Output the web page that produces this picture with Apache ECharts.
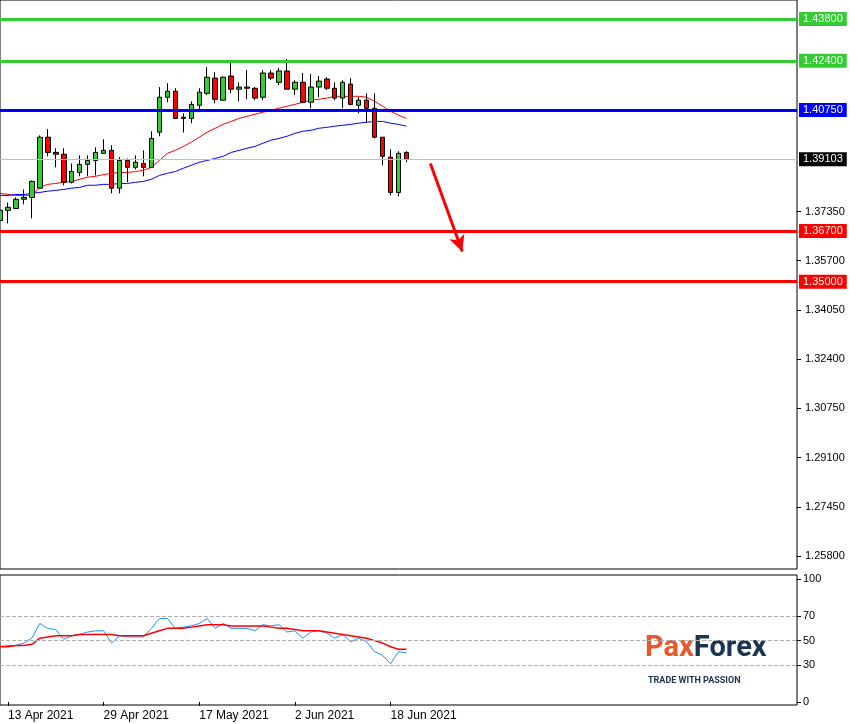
<!DOCTYPE html>
<html><head><meta charset="utf-8">
<script src="https://cdn.jsdelivr.net/npm/echarts@6/dist/echarts.min.js"></script>
<style>html,body{margin:0;padding:0;background:#fff}#c{width:858px;height:724px}</style>
</head><body><div id="c"></div>
<script>
// candles [open, close, low, high]
const candles = [
[1.3705,1.3739,1.3672,1.3776],[1.3739,1.3749,1.3695,1.3765],[1.3745,1.3776,1.3745,1.3782],[1.3776,1.3782,1.3759,1.3809],
[1.3782,1.3836,1.3712,1.3839],[1.3813,1.3984,1.3813,1.3990],[1.3984,1.3933,1.3920,1.4011],[1.3933,1.3927,1.3883,1.3947],
[1.3927,1.3833,1.3823,1.3947],[1.3833,1.3869,1.3829,1.3896],[1.3866,1.3893,1.3853,1.3923],[1.3893,1.3906,1.3853,1.3923],
[1.3906,1.3933,1.3856,1.3950],[1.3930,1.3940,1.3930,1.3977],[1.3940,1.3813,1.3796,1.3957],[1.3813,1.3906,1.3796,1.3917],
[1.3906,1.3883,1.3833,1.3913],[1.3883,1.3900,1.3876,1.3923],[1.3896,1.3883,1.3853,1.3940],[1.3883,1.3980,1.3883,1.4004],
[1.4001,1.4118,1.3987,1.4152],[1.4118,1.4138,1.4101,1.4165],[1.4138,1.4047,1.4047,1.4148],[1.4051,1.4047,1.4000,1.4064],
[1.4047,1.4094,1.4031,1.4104],[1.4091,1.4135,1.4074,1.4148],[1.4131,1.4185,1.4125,1.4219],[1.4182,1.4111,1.4098,1.4202],
[1.4108,1.4185,1.4108,1.4188],[1.4189,1.4145,1.4131,1.4236],[1.4145,1.4152,1.4104,1.4168],[1.4152,1.4148,1.4111,1.4209],
[1.4148,1.4115,1.4108,1.4152],[1.4118,1.4199,1.4108,1.4209],[1.4199,1.4182,1.4175,1.4209],[1.4168,1.4206,1.4158,1.4216],
[1.4206,1.4145,1.4145,1.4246],[1.4145,1.4168,1.4125,1.4175],[1.4168,1.4101,1.4098,1.4199],[1.4101,1.4152,1.4081,1.4196],
[1.4152,1.4172,1.4118,1.4189],[1.4179,1.4148,1.4142,1.4185],[1.4148,1.4115,1.4108,1.4168],[1.4115,1.4168,1.4081,1.4175],
[1.4162,1.4094,1.4091,1.4182],[1.4091,1.4108,1.4064,1.4118],[1.4108,1.4081,1.4034,1.4131],[1.4081,1.3984,1.3980,1.4131],
[1.3984,1.3920,1.3890,1.3984],[1.3917,1.3799,1.3789,1.3943],[1.3799,1.3930,1.3786,1.3937],[1.3933,1.3910,1.3900,1.3937]
];
const maFast = [1.3796,1.3792,1.3789,1.3789,1.3789,1.3816,1.3826,1.3829,1.3833,1.3836,1.3843,1.3850,1.3853,1.3859,1.3863,1.3866,1.3866,1.3869,1.3873,1.3883,1.3906,1.3930,1.3940,1.3953,1.3967,1.3984,1.4001,1.4014,1.4027,1.4037,1.4047,1.4054,1.4061,1.4068,1.4074,1.4081,1.4088,1.4094,1.4101,1.4108,1.4111,1.4115,1.4121,1.4121,1.4121,1.4121,1.4118,1.4104,1.4088,1.4071,1.4058,1.4047];
const maSlow = [1.3789,1.3789,1.3792,1.3792,1.3796,1.3799,1.3803,1.3806,1.3809,1.3813,1.3816,1.3823,1.3823,1.3826,1.3826,1.3829,1.3829,1.3833,1.3836,1.3843,1.3856,1.3863,1.3869,1.3880,1.3890,1.3900,1.3906,1.3913,1.3920,1.3933,1.3940,1.3947,1.3953,1.3964,1.3974,1.3980,1.3987,1.3997,1.4004,1.4007,1.4014,1.4017,1.4021,1.4024,1.4027,1.4031,1.4034,1.4037,1.4037,1.4031,1.4027,1.4021];
const rsi = [45,46,46,48,52,64,60,59,51,54,55,57,58,58,48,54,53,53,53,60,68,68,60,61,62,64,68,60,64,60,60,60,58,63,62,63,57,58,52,57,58,56,52,55,49,52,49,41,38,31,41,40];
const rsiSignal = [45,45,46,46,47,52,53,54,54,54,55,55,55,55,55,54,54,54,54,56,58,60,60,60,61,62,63,63,63,62,62,62,62,62,61,60,60,59,58,58,58,57,56,55,54,53,52,50,48,45,43,43];
const priceTicks = [1.258,1.2745,1.291,1.3075,1.324,1.3405,1.357,1.3735];
const rsiTicks = [0,30,50,70,100];
const levels = [
 {v:1.438, c:'#33cc33'}, {v:1.424, c:'#33cc33'},
 {v:1.4075, c:'#0000ff'}, {v:1.367, c:'#ff0000'}, {v:1.350, c:'#ff0000'}
];
const lastPrice = 1.39103;
const arrowFrom = [53.5, 1.3896], arrowTo = [57.9, 1.3601];
const dateLabelIdx = [1,13,25,37,49];
const nSlots = 101;

const mon = ['Jan','Feb','Mar','Apr','May','Jun','Jul','Aug','Sep','Oct','Nov','Dec'];
const cats = [];
let d = new Date(Date.UTC(2021,3,12));
while (cats.length < nSlots) {
  const wd = d.getUTCDay();
  if (wd !== 0 && wd !== 6) cats.push(d.getUTCDate()+' '+mon[d.getUTCMonth()]+' 2021');
  d = new Date(d.getTime()+86400000);
}

const chart = echarts.init(document.getElementById('c'));
const lbl = (txt,bg)=>({show:true,position:'end',distance:2,formatter:txt,backgroundColor:bg,color:'#fff',padding:[2,4,1,4],fontSize:11,fontFamily:'Liberation Sans'});
const mlLevels = levels.map(l => ({yAxis:l.v, lineStyle:{color:l.c,width:3,type:'solid'}, label:lbl(l.v.toFixed(5),l.c)}));
mlLevels.unshift({yAxis:lastPrice,lineStyle:{color:'#c0c0c0',width:1,type:'solid'},label:lbl(lastPrice.toFixed(5),'#000')});

chart.setOption({
  animation:false,
  textStyle:{fontFamily:'Liberation Sans'},
  grid:[
    {left:0,top:0,width:797,height:569,show:true,borderColor:'#000',borderWidth:1,backgroundColor:'#fff'},
    {left:0,top:575,width:797,height:130,show:true,borderColor:'#000',borderWidth:1}
  ],
  xAxis:[
    {type:'category',data:cats,boundaryGap:false,gridIndex:0,axisLine:{show:false},axisTick:{show:false},axisLabel:{show:false},splitLine:{show:false}},
    {type:'category',data:cats,boundaryGap:false,gridIndex:1,axisLine:{show:false},
     axisTick:{show:true,interval:(i)=>dateLabelIdx.includes(i),length:4,lineStyle:{color:'#000'}},
     axisLabel:{interval:(i)=>dateLabelIdx.includes(i),align:'left',color:'#000',fontSize:12,margin:5},splitLine:{show:false}}
  ],
  yAxis:[
    {type:'value',gridIndex:0,position:'right',min:1.2537,max:1.44438,
     axisLine:{show:false},splitLine:{show:false},
     axisTick:{show:true,customValues:priceTicks,length:4,lineStyle:{color:'#000'}},
     axisLabel:{customValues:priceTicks,formatter:v=>v.toFixed(5),color:'#000',fontSize:11,margin:8}},
    {type:'value',gridIndex:1,position:'right',min:-2.5,max:103.5,
     axisLine:{show:false},splitLine:{show:false},
     axisTick:{show:true,customValues:rsiTicks,length:4,lineStyle:{color:'#000'}},
     axisLabel:{customValues:rsiTicks,color:'#000',fontSize:11,margin:6}}
  ],
  series:[
    {type:'line',xAxisIndex:0,yAxisIndex:0,data:[],symbol:'none',
     markLine:{silent:true,precision:5,symbol:['none','none'],data:mlLevels}},
    {type:'candlestick',xAxisIndex:0,yAxisIndex:0,data:candles,barWidth:5,z:4,
     itemStyle:{color:'#33cc33',color0:'#ff0000',borderColor:'#000',borderColor0:'#000',borderWidth:1}},
    {type:'line',xAxisIndex:0,yAxisIndex:0,data:maFast,symbol:'none',lineStyle:{color:'#ff0000',width:1},z:3},
    {type:'line',xAxisIndex:0,yAxisIndex:0,data:maSlow,symbol:'none',lineStyle:{color:'#0000ff',width:1},z:3,
     markLine:{silent:true,precision:5,symbol:['none','arrow'],symbolSize:[12,16],label:{show:false},
       lineStyle:{color:'#ff0000',width:3,type:'solid'},
       data:[[{coord:arrowFrom},{coord:arrowTo}]]}},
    {type:'line',xAxisIndex:1,yAxisIndex:1,data:rsi,symbol:'none',lineStyle:{color:'#1e90ff',width:1},
     markLine:{silent:true,symbol:['none','none'],label:{show:false},
       lineStyle:{color:'#b0b0b0',type:'dashed',width:1},data:[{yAxis:70},{yAxis:50},{yAxis:30}]}},
    {type:'line',xAxisIndex:1,yAxisIndex:1,data:rsiSignal,symbol:'none',lineStyle:{color:'#ff0000',width:1.5}}
  ],
  graphic:[
    {type:'text',left:645,top:634,style:{text:'{a|Pax}{b|Forex}',rich:{
      a:{fill:'#e8582a',fontSize:29,fontWeight:'bold',fontFamily:'Roboto'},
      b:{fill:'#1d3450',fontSize:29,fontWeight:'bold',fontFamily:'Roboto'}}}},
    {type:'text',left:648,top:676,style:{text:'TRADE WITH PASSION',fill:'#1d3450',fontSize:9,fontFamily:'Roboto',fontWeight:'bold',letterSpacing:1.5}}
  ]
});
</script></body></html>
